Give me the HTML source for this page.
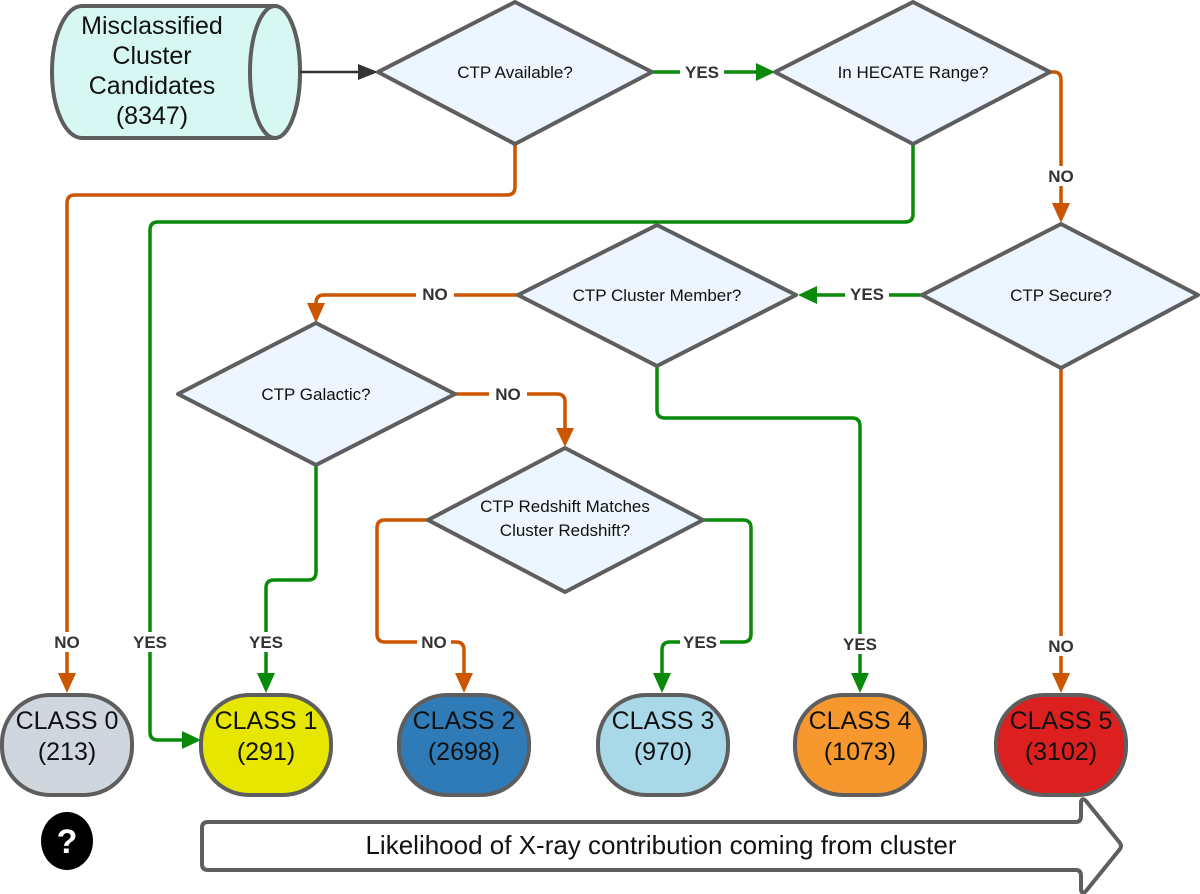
<!DOCTYPE html>
<html><head><meta charset="utf-8"><style>
html,body{margin:0;padding:0;background:#fff;}
svg{display:block;font-family:"Liberation Sans",sans-serif;}
.d{fill:#edf5fe;stroke:#5e5e5e;stroke-width:4;stroke-linejoin:round;}
.o{fill:none;stroke:#cc5500;stroke-width:3.5;stroke-linejoin:round;}
.g{fill:none;stroke:#0a8a0a;stroke-width:3.5;stroke-linejoin:round;}
.lb{font-size:17px;font-weight:bold;fill:#333;text-anchor:middle;}
.dt{font-size:17px;fill:#111;text-anchor:middle;}
.ct{font-size:25px;fill:#111;text-anchor:middle;}
.p{stroke:#5e5e5e;stroke-width:4;}
</style></head><body>
<svg width="1200" height="894" viewBox="0 0 1200 894">
<path d="M82,6 L275,6 A25,66 0 0 1 275,138 L82,138 A30,66 0 0 1 82,6 Z" fill="#d7f8f2" stroke="#5e5e5e" stroke-width="4"/>
<ellipse cx="275" cy="72" rx="25" ry="66" fill="#d7f8f2" stroke="#5e5e5e" stroke-width="4"/>
<text class="ct" x="152" y="34">Misclassified</text>
<text class="ct" x="152" y="64">Cluster</text>
<text class="ct" x="152" y="94">Candidates</text>
<text class="ct" x="152" y="124">(8347)</text>
<line x1="300" y1="72" x2="360" y2="72" stroke="#333" stroke-width="2.5"/>
<polygon points="358,64 378,72 358,80" fill="#333"/>

<path class="g" d="M652,72 L758,72"/><polygon points="756,63 775,72 756,81" fill="#0a8a0a"/>
<rect x="680" y="62" width="44" height="20" fill="#fff"/><text class="lb" x="702" y="78">YES</text>

<path class="o" d="M1050,72 L1054,72 Q1061,72 1061,80 L1061,205"/><polygon points="1052,203 1061,223 1070,203" fill="#cc5500"/>
<rect x="1042" y="166" width="38" height="20" fill="#fff"/><text class="lb" x="1061" y="182">NO</text>

<path class="o" d="M515,144 L515,187 Q515,195 507,195 L75,195 Q67,195 67,203 L67,675"/><polygon points="58,673 67,693 76,673" fill="#cc5500"/>
<rect x="48" y="632" width="38" height="20" fill="#fff"/><text class="lb" x="67" y="648">NO</text>

<path class="g" d="M913,144 L913,214 Q913,222 905,222 L158,222 Q150,222 150,230 L150,732 Q150,740 158,740 L184,740"/><polygon points="182,731 201,740 182,749" fill="#0a8a0a"/>
<rect x="128" y="632" width="44" height="20" fill="#fff"/><text class="lb" x="150" y="648">YES</text>

<path class="g" d="M922,295 L815,295"/><polygon points="817,286 798,295 817,304" fill="#0a8a0a"/>
<rect x="845" y="284" width="44" height="20" fill="#fff"/><text class="lb" x="867" y="300">YES</text>

<path class="o" d="M518,295 L324,295 Q316,295 316,303 L316,305"/><polygon points="307,303 316,323 325,303" fill="#cc5500"/>
<rect x="416" y="284" width="38" height="20" fill="#fff"/><text class="lb" x="435" y="300">NO</text>

<path class="o" d="M455,394 L557,394 Q565,394 565,402 L565,430"/><polygon points="556,428 565,447 574,428" fill="#cc5500"/>
<rect x="489" y="384" width="38" height="20" fill="#fff"/><text class="lb" x="508" y="400">NO</text>

<path class="g" d="M316,465 L316,572 Q316,580 308,580 L274,580 Q266,580 266,588 L266,675"/><polygon points="257,673 266,693 275,673" fill="#0a8a0a"/>
<rect x="244" y="632" width="44" height="20" fill="#fff"/><text class="lb" x="266" y="648">YES</text>

<path class="o" d="M428,520 L385,520 Q377,520 377,528 L377,634 Q377,642 385,642 L456,642 Q464,642 464,650 L464,675"/><polygon points="455,673 464,693 473,673" fill="#cc5500"/>
<rect x="417" y="632" width="34" height="20" fill="#fff"/><text class="lb" x="434" y="648">NO</text>

<path class="g" d="M703,520 L743,520 Q751,520 751,528 L751,634 Q751,642 743,642 L670,642 Q662,642 662,650 L662,675"/><polygon points="653,673 662,693 671,673" fill="#0a8a0a"/>
<rect x="680" y="632" width="40" height="20" fill="#fff"/><text class="lb" x="700" y="648">YES</text>

<path class="g" d="M657,366 L657,410 Q657,418 665,418 L852,418 Q860,418 860,426 L860,675"/><polygon points="851,673 860,693 869,673" fill="#0a8a0a"/>
<rect x="838" y="634" width="44" height="20" fill="#fff"/><text class="lb" x="860" y="650">YES</text>

<path class="o" d="M1061,368 L1061,675"/><polygon points="1052,673 1061,693 1070,673" fill="#cc5500"/>
<rect x="1042" y="636" width="38" height="20" fill="#fff"/><text class="lb" x="1061" y="652">NO</text>

<polygon class="d" points="378,72 515,2 652,72 515,144"/>
<text class="dt" x="515" y="78">CTP Available?</text>
<polygon class="d" points="775,72 913,2 1050,72 913,144"/>
<text class="dt" x="913" y="78">In HECATE Range?</text>
<polygon class="d" points="922,295 1061,224 1198,295 1061,368"/>
<text class="dt" x="1061" y="301">CTP Secure?</text>
<polygon class="d" points="518,295 657,225 796,295 657,366"/>
<text class="dt" x="657" y="301">CTP Cluster Member?</text>
<polygon class="d" points="178,394 316,323 455,394 316,465"/>
<text class="dt" x="316" y="400">CTP Galactic?</text>
<polygon class="d" points="428,520 565,448 703,520 565,592"/>
<text class="dt" x="565" y="512">CTP Redshift Matches</text>
<text class="dt" x="565" y="536">Cluster Redshift?</text>

<rect class="p" x="2" y="695" width="130" height="100" rx="48" fill="#cfd6de"/>
<text class="ct" x="67" y="729">CLASS 0</text><text class="ct" x="67" y="760">(213)</text>
<rect class="p" x="201" y="695" width="130" height="100" rx="48" fill="#e6e600"/>
<text class="ct" x="266" y="729">CLASS 1</text><text class="ct" x="266" y="760">(291)</text>
<rect class="p" x="399" y="695" width="130" height="100" rx="48" fill="#2e7bb8"/>
<text class="ct" x="464" y="729">CLASS 2</text><text class="ct" x="464" y="760">(2698)</text>
<rect class="p" x="598" y="695" width="130" height="100" rx="48" fill="#a9d8e8"/>
<text class="ct" x="663" y="729">CLASS 3</text><text class="ct" x="663" y="760">(970)</text>
<rect class="p" x="795" y="695" width="130" height="100" rx="48" fill="#f7982f"/>
<text class="ct" x="860" y="729">CLASS 4</text><text class="ct" x="860" y="760">(1073)</text>
<rect class="p" x="996" y="695" width="130" height="100" rx="48" fill="#dc1f1f"/>
<text class="ct" x="1061" y="729">CLASS 5</text><text class="ct" x="1061" y="760">(3102)</text>

<ellipse cx="67" cy="841" rx="26" ry="29" fill="#000"/>
<text x="67" y="853" font-size="34" font-weight="bold" fill="#fff" text-anchor="middle">?</text>
<path d="M208,822 L1076,822 Q1081,822 1081,816 L1081,802 Q1082,797 1086,801 L1120,843 Q1122,846 1120,849 L1086,891 Q1082,895 1081,890 L1081,876 Q1081,870 1076,870 L208,870 Q202,870 202,864 L202,828 Q202,822 208,822 Z" fill="#fff" stroke="#5e5e5e" stroke-width="4" stroke-linejoin="round"/>
<text x="661" y="854" font-size="26" fill="#111" text-anchor="middle">Likelihood of X-ray contribution coming from cluster</text>
</svg>
</body></html>
